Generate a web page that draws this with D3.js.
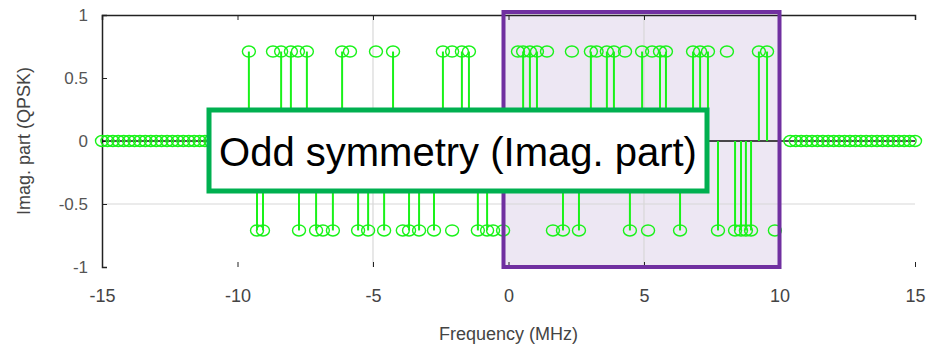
<!DOCTYPE html>
<html>
<head>
<meta charset="utf-8">
<script src="https://cdn.jsdelivr.net/npm/d3@7"></script>
<style>
  html, body { margin: 0; padding: 0; background: #fff; }
  svg { display: block; font-family: "Liberation Sans", Arial, sans-serif; }
</style>
</head>
<body>
<svg id="chart"></svg>
<script>
const width = 928,
      height = 349,
      amp = 0.71;          // QPSK imaginary level

// subcarriers carrying +amp (with stem)
const posFreqs = [-9.58, -8.39, -8.03, -7.44, -6.14, -4.26, -2.42, -1.72, -1.46,
                  0.54, 0.79, 1.05, 3.04, 3.63, 3.89, 4.93, 5.59, 5.81,
                  6.81, 7.07, 7.36, 9.24, 9.54];
// subcarriers carrying -amp (with stem)
const negFreqs = [-9.28, -9.06, -7.73, -7.10, -6.48, -5.55, -5.18, -4.59, -3.67,
                  -3.30, -2.75, -1.13, -0.79, 2.01, 2.60, 4.48, 6.33, 7.73,
                  8.36, 8.58, 8.76, 8.95];
// markers drawn without a visible stem
const posMarks = [-8.69, -7.77, -5.85, -4.89, -2.08, 0.35, 1.42, 2.34, 3.25, 4.30, 5.30, 8.06];
const negMarks = [-6.85, -3.90, -2.08, -0.57, -0.20, 1.64, 5.15, 9.83];
// empty (zero) subcarriers outside the band
const zeroFreqs = [-15, -14.8, -14.6, -14.4, -14.2, -14, -13.8, -13.6, -13.4, -13.2,
                   -13, -12.8, -12.6, -12.4, -12.2, -12, -11.8, -11.6, -11.4, -11.2,
                   -11, -10.8, -10.6, -10.4,
                   10.4, 10.6, 10.8, 11, 11.2, 11.4, 11.6, 11.8, 12, 12.2, 12.4,
                   12.6, 12.8, 13, 13.2, 13.4, 13.6, 13.8, 14, 14.2, 14.4, 14.6, 14.8, 15];

const xTicks = [-15, -10, -5, 0, 5, 10, 15],
      yTicks = [1, 0.5, 0, -0.5, -1],
      xGrid = [-5, 5],
      yGrid = [-0.5],
      highlight = [0, 10];

const margin = {top: 15, right: 13, bottom: 82, left: 102};

const svg = d3.select('#chart')
  .attr('width', width)
  .attr('height', height);

const x = d3.scaleLinear()
  .domain([-15, 15])
  .range([margin.left, width - margin.right]);

const y = d3.scaleLinear()
  .domain([-1, 1])
  .range([height - margin.bottom, margin.top]);

// plain hyphen minus like the original figure
const fmt = d => String(d);

// highlighted band fill (behind data)
svg.append('rect')
  .attr('x', x(highlight[0]) - 5)
  .attr('y', y(1) - 3)
  .attr('width', x(highlight[1]) - x(highlight[0]) + 5)
  .attr('height', y(-1) - y(1) + 3)
  .attr('fill', '#ede7f3');

// grid
svg.append('g').selectAll('line')
  .data(xGrid)
  .join('line')
  .attr('x1', d => x(d)).attr('x2', d => x(d))
  .attr('y1', y(1)).attr('y2', y(-1))
  .attr('stroke', '#d8d8d8')
  .attr('stroke-width', 1.2);

svg.append('g').selectAll('line')
  .data(yGrid)
  .join('line')
  .attr('x1', x(-15)).attr('x2', x(15))
  .attr('y1', d => y(d)).attr('y2', d => y(d))
  .attr('stroke', '#d8d8d8')
  .attr('stroke-width', 1.2);

// axes: left and top only, ticks inward
const gy = svg.append('g')
  .attr('transform', `translate(${x(-15)},0)`)
  .call(d3.axisLeft(y).tickValues(yTicks).tickSize(-5).tickPadding(14).tickFormat(fmt));
gy.select('.domain').attr('stroke', '#222').attr('stroke-width', 1.5);
gy.selectAll('.tick line').attr('stroke', '#222');
gy.selectAll('.tick text')
  .attr('fill', '#555')
  .style('font-size', '17px');

const gTop = svg.append('g')
  .attr('transform', `translate(0,${y(1)})`)
  .call(d3.axisTop(x).tickValues(xTicks).tickSize(-5).tickFormat(''));
gTop.select('.domain').attr('stroke', '#222').attr('stroke-width', 1.5);
gTop.selectAll('.tick line').attr('stroke', '#222');

const gx = svg.append('g')
  .attr('transform', `translate(0,${y(-1)})`)
  .call(d3.axisBottom(x).tickValues(xTicks).tickSize(-5).tickPadding(22).tickFormat(fmt));
gx.select('.domain').remove();
gx.selectAll('.tick line').attr('stroke', '#222');
gx.selectAll('.tick text')
  .attr('fill', '#444')
  .style('font-size', '18px');

// axis titles
svg.append('text')
  .attr('x', x(0))
  .attr('y', 340)
  .attr('text-anchor', 'middle')
  .attr('fill', '#444')
  .style('font-size', '18px')
  .text('Frequency (MHz)');

svg.append('text')
  .attr('transform', `translate(30,${y(0)}) rotate(-90)`)
  .attr('text-anchor', 'middle')
  .attr('fill', '#444')
  .style('font-size', '18px')
  .text('Imag. part (QPSK)');

// stem baseline
svg.append('line')
  .attr('x1', x(-15)).attr('x2', x(15))
  .attr('y1', y(0)).attr('y2', y(0))
  .attr('stroke', '#111')
  .attr('stroke-width', 1.5);

const green = '#19f219';
const stems = posFreqs.map(f => ({f, v: amp}))
  .concat(negFreqs.map(f => ({f, v: -amp})));
const marks = stems
  .concat(posMarks.map(f => ({f, v: amp})))
  .concat(negMarks.map(f => ({f, v: -amp})))
  .concat(zeroFreqs.map(f => ({f, v: 0})));

svg.append('g').selectAll('line')
  .data(stems)
  .join('line')
  .attr('x1', d => x(d.f)).attr('x2', d => x(d.f))
  .attr('y1', y(0)).attr('y2', d => y(d.v))
  .attr('stroke', green)
  .attr('stroke-width', 2);

svg.append('g').selectAll('ellipse')
  .data(marks)
  .join('ellipse')
  .attr('cx', d => x(d.f))
  .attr('cy', d => y(d.v))
  .attr('rx', 6.5)
  .attr('ry', 5.5)
  .attr('fill', 'none')
  .attr('stroke', green)
  .attr('stroke-width', 1.4);

// highlighted band border
svg.append('rect')
  .attr('x', x(highlight[0]) - 5)
  .attr('y', y(1) - 3)
  .attr('width', x(highlight[1]) - x(highlight[0]) + 5)
  .attr('height', y(-1) - y(1) + 3)
  .attr('fill', 'none')
  .attr('stroke', '#7030a0')
  .attr('stroke-width', 4);

// annotation
svg.append('rect')
  .attr('x', 209)
  .attr('y', 110)
  .attr('width', 498)
  .attr('height', 81)
  .attr('fill', '#fff')
  .attr('stroke', '#00b050')
  .attr('stroke-width', 5);

svg.append('text')
  .attr('x', 458)
  .attr('y', 166)
  .attr('text-anchor', 'middle')
  .attr('fill', '#000')
  .style('font-size', '40px')
  .text('Odd symmetry (Imag. part)');
</script>
</body>
</html>
